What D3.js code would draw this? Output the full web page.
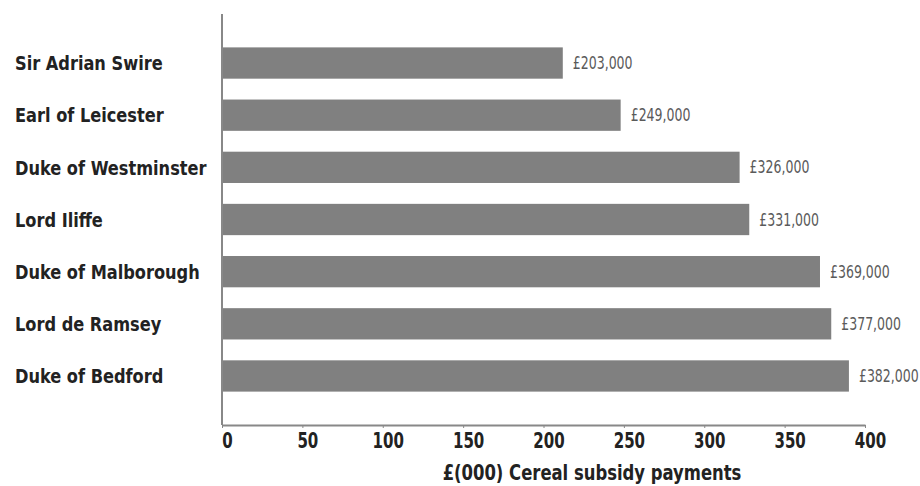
<!DOCTYPE html>
<html lang="en">
<head>
<meta charset="UTF-8"/>
<title>Cereal subsidy payments</title>
<script src="https://d3js.org/d3.v7.min.js"></script>
<style>
  body { margin: 0; background: #fff; }
  text { font-family: "Liberation Sans Narrow", "DejaVu Sans Condensed", "Arial Narrow", sans-serif; }
</style>
</head>
<body>
<div id="chart"></div>
<script>
// Data (top to bottom)
var names = ["Sir Adrian Swire", "Earl of Leicester", "Duke of Westminster", "Lord Iliffe",
             "Duke of Malborough", "Lord de Ramsey", "Duke of Bedford"];
// bar lengths as drawn in the picture (£000)
var barValues = [212, 248, 322, 328, 372, 379, 390];
// printed amounts
var amountLabels = ["£203,000", "£249,000", "£326,000", "£331,000", "£369,000", "£377,000", "£382,000"];
var xTicks = [0, 50, 100, 150, 200, 250, 300, 350, 400];
var xTitle = "£(000) Cereal subsidy payments";

var w = 920, h = 486;
var x0 = 222, x1 = 865;
var yTop = 14, yBottom = 425;

var svg = d3.select("#chart").append("svg")
    .attr("width", w)
    .attr("height", h);

var xScale = d3.scaleLinear()
    .domain([0, 400])
    .range([x0, x1]);

var yScale = d3.scaleBand()
    .domain(names)
    .range([yTop, yBottom])
    .paddingInner(0.4)
    .paddingOuter(0.64);

// bars
svg.selectAll("rect.bar")
    .data(barValues)
    .enter()
    .append("rect")
    .attr("class", "bar")
    .attr("x", xScale(0))
    .attr("y", function(d, i) { return yScale(names[i]); })
    .attr("width", function(d) { return xScale(d) - xScale(0); })
    .attr("height", yScale.bandwidth())
    .attr("fill", "#808080");

// value labels (narrowed to look like a condensed face)
svg.selectAll("text.amount")
    .data(barValues)
    .enter()
    .append("text")
    .attr("class", "amount")
    .attr("transform", function(d, i) {
        return "translate(" + (xScale(d) + 10) + "," + (yScale(names[i]) + yScale.bandwidth() / 2) + ") scale(0.82,1)";
    })
    .attr("dy", "0.36em")
    .attr("font-size", "17px")
    .attr("fill", "#5a5a5a")
    .text(function(d, i) { return amountLabels[i]; });

// category labels
svg.selectAll("text.name")
    .data(names)
    .enter()
    .append("text")
    .attr("class", "name")
    .attr("transform", function(d) {
        return "translate(15," + (yScale(d) + yScale.bandwidth() / 2) + ") scale(0.9,1)";
    })
    .attr("dy", "0.36em")
    .attr("font-size", "20px")
    .attr("font-weight", "bold")
    .attr("fill", "#222")
    .text(function(d) { return d; });

// y axis line
svg.append("line")
    .attr("x1", x0).attr("x2", x0)
    .attr("y1", yTop).attr("y2", yBottom)
    .attr("stroke", "#888")
    .attr("stroke-width", 2);

// x axis
var xAxis = d3.axisBottom(xScale)
    .tickValues(xTicks)
    .tickSize(3)
    .tickSizeOuter(0)
    .tickPadding(4);

var gx = svg.append("g")
    .attr("transform", "translate(0," + yBottom + ")")
    .call(xAxis);

gx.select(".domain").attr("stroke", "#888").attr("stroke-width", 2);
gx.selectAll(".tick line").attr("stroke", "#888");
gx.selectAll(".tick text")
    .attr("font-size", "22px")
    .attr("font-weight", "bold")
    .attr("fill", "#222")
    .attr("font-family", "'Liberation Sans Narrow', 'DejaVu Sans Condensed', sans-serif")
    .attr("transform", "translate(5,0) scale(0.76,1)");

// axis title
svg.append("text")
    .attr("transform", "translate(592,480) scale(0.87,1)")
    .attr("text-anchor", "middle")
    .attr("font-size", "21px")
    .attr("font-weight", "bold")
    .attr("fill", "#222")
    .text(xTitle);
</script>
</body>
</html>
